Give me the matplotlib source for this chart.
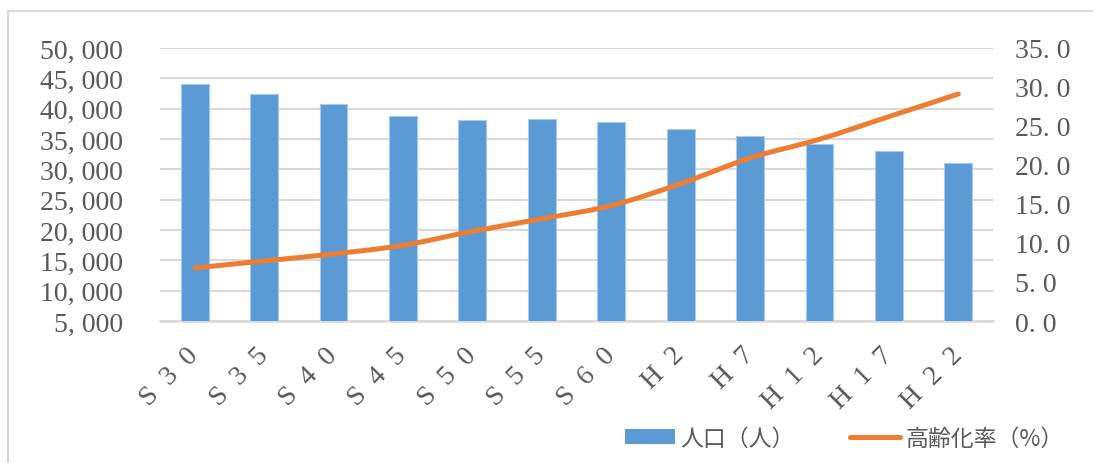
import matplotlib
matplotlib.use('Agg')
import matplotlib.pyplot as plt
from matplotlib.patches import Patch, PathPatch
from matplotlib.lines import Line2D
from matplotlib.path import Path
import numpy as np

# ---- data ----
categories = ['S30', 'S35', 'S40', 'S45', 'S50', 'S55', 'S60', 'H2', 'H7', 'H12', 'H17', 'H22']
population = [44100, 42400, 40800, 38800, 38100, 38300, 37850, 36700, 35500, 34200, 33000, 31100]
aging_rate = [6.8, 7.7, 8.6, 9.7, 11.5, 13.1, 14.8, 17.6, 20.9, 23.3, 26.2, 29.1]
left_ticks = [5000, 10000, 15000, 20000, 25000, 30000, 35000, 40000, 45000, 50000]
right_ticks = [0, 5, 10, 15, 20, 25, 30, 35]
legend_labels = ['人口（人）', '高齢化率（%）']

BLUE = '#5B9BD5'
ORANGE = '#ED7D31'
GRID = '#D9D9D9'
TXT = '#595959'
SERIF = ['Liberation Serif', 'DejaVu Serif']
CJK = ['Noto Sans CJK JP', 'DejaVu Sans']

W, H = 1093, 464
fig = plt.figure(figsize=(W / 100, H / 100), dpi=100)
fig.patch.set_facecolor('white')
PX = 72 / 100  # points per pixel

left_px, right_px, top_px, bottom_px = 160, 993, 49, 322
ax = fig.add_axes([left_px / W, 1 - bottom_px / H, (right_px - left_px) / W, (bottom_px - top_px) / H])

x = np.arange(len(categories))
ax.bar(x, population, width=0.4, color=BLUE, edgecolor='#A9C8EA', linewidth=0.8, zorder=3)
ax.set_xlim(-0.5, len(categories) - 0.5)
ax.set_ylim(left_ticks[0], left_ticks[-1])
ax.set_yticks(left_ticks)
ax.set_yticklabels([f'{v:,}'.replace(',', ', ') for v in left_ticks],
                   family=SERIF, fontsize=20, color=TXT)
ax.grid(axis='y', color=GRID, linewidth=1.5, zorder=0)
ax.set_axisbelow(True)
for s in ['top', 'right', 'left']:
    ax.spines[s].set_visible(False)
ax.spines['bottom'].set_color(GRID)
ax.spines['bottom'].set_linewidth(1.8)
ax.tick_params(axis='y', length=0, pad=37 * PX)
ax.tick_params(axis='x', length=0, pad=30 * PX)
ax.set_xticks(x)
ax.set_xticklabels(['\u2002'.join(list(c)) for c in categories], family=SERIF,
                   fontsize=20, color=TXT, rotation=45, ha='right', va='center',
                   rotation_mode='anchor')

ax2 = ax.twinx()
ax2.set_ylim(right_ticks[0], right_ticks[-1])
ax2.set_yticks(right_ticks)
ax2.set_yticklabels([f'{v:.1f}'.replace('.', '. ') for v in right_ticks],
                    family=SERIF, fontsize=20, color=TXT)
ax2.tick_params(axis='y', length=0, pad=22 * PX)
for s in ax2.spines.values():
    s.set_visible(False)

# smoothed line (Bezier through data points, as Excel's smoothed line)
pts = np.column_stack([x, aging_rate]).astype(float)
n = len(pts)
verts = [tuple(pts[0])]
codes = [Path.MOVETO]
for i in range(n - 1):
    p0 = pts[max(i - 1, 0)]
    p1 = pts[i]
    p2 = pts[i + 1]
    p3 = pts[min(i + 2, n - 1)]
    c1 = p1 + (p2 - p0) / 6.0
    c2 = p2 - (p3 - p1) / 6.0
    verts += [tuple(c1), tuple(c2), tuple(p2)]
    codes += [Path.CURVE4] * 3
patch = PathPatch(Path(verts, codes), facecolor='none', edgecolor=ORANGE,
                  linewidth=3.6, capstyle='round', joinstyle='round', zorder=5)
ax2.add_patch(patch)

# legend
handles = [Patch(facecolor=BLUE, edgecolor='none'),
           Line2D([0], [0], color=ORANGE, linewidth=3.6, solid_capstyle='round')]
fig.legend(handles, legend_labels, loc='center', bbox_to_anchor=(844 / W, 1 - 439 / H),
           ncol=2, frameon=False, prop={'family': CJK, 'size': 16.5},
           labelcolor=TXT, handlelength=2.2, handleheight=0.58, handletextpad=0.22,
           columnspacing=2.4)

# chart border (top and left edges visible)
fig.add_artist(Line2D([8 / W, 1.0], [1 - 12 / H, 1 - 12 / H], color=GRID, linewidth=1.5,
                      transform=fig.transFigure))
fig.add_artist(Line2D([8 / W, 8 / W], [0.0, 1 - 12 / H], color=GRID, linewidth=1.5,
                      transform=fig.transFigure))

fig.savefig('out.png', dpi=100)
